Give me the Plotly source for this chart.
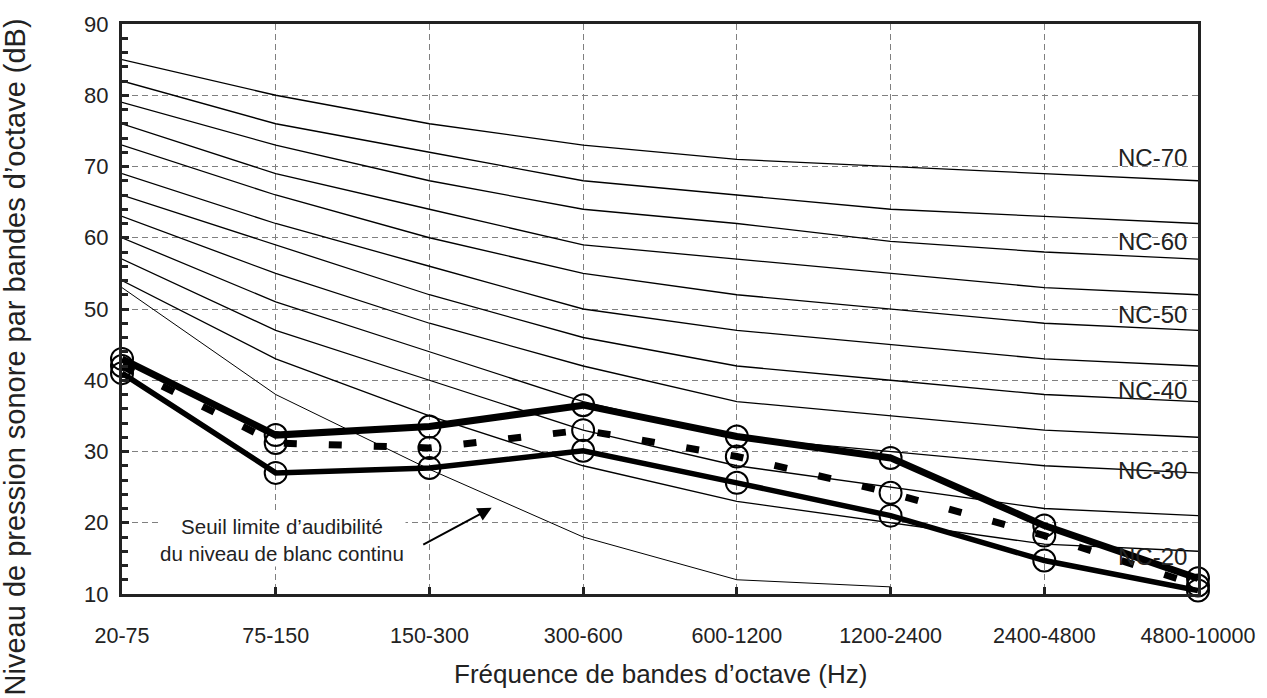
import plotly.graph_objects as go

bands = ["20-75", "75-150", "150-300", "300-600", "600-1200", "1200-2400", "2400-4800", "4800-10000"]

nc_names = ["NC-70", "NC-65", "NC-60", "NC-55", "NC-50", "NC-45", "NC-40", "NC-35", "NC-30", "NC-25", "NC-20"]
nc70 = [85, 80, 76, 73, 71, 70, 69, 68]
nc65 = [82, 76, 72, 68, 66, 64, 63, 62]
nc60 = [79, 73, 68, 64, 62, 59.5, 58, 57]
nc55 = [76, 69, 64, 59, 57, 55, 53, 52]
nc50 = [73, 66, 60, 55, 52, 50, 48, 47]
nc45 = [69, 62, 56, 50, 47, 45, 43, 42]
nc40 = [66, 59, 52, 46, 42, 40, 38, 37]
nc35 = [63, 55, 48, 42, 37, 35, 33, 32]
nc30 = [60, 51, 44, 37, 32, 30, 28, 27]
nc25 = [57, 47, 40, 33, 28, 25, 22, 21]
nc20 = [54, 43, 35, 28, 23, 20, 17, 16]
nc_curves = [nc70, nc65, nc60, nc55, nc50, nc45, nc40, nc35, nc30, nc25, nc20]

threshold = [53, 38, 27.5, 18, 12, 11]

mesure_haut = [43, 32.3, 33.5, 36.5, 32.1, 29.1, 19.6, 12.2]
mesure_moy = [42, 31.2, 30.5, 33.0, 29.3, 24.2, 18.2, 11.2]
mesure_bas = [41, 27.0, 27.7, 30.1, 25.6, 21.0, 14.7, 10.5]

label_names = ["NC-70", "NC-60", "NC-50", "NC-40", "NC-30", "NC-20"]
label_y = [71.2, 59.5, 49.2, 38.6, 27.3, 15.3]

FONT = "Liberation Sans, Arial, sans-serif"
xs = list(range(len(bands)))

fig = go.Figure()

for name, vals in zip(nc_names, nc_curves):
    fig.add_trace(go.Scatter(x=xs, y=vals, mode="lines", name=name,
                             line=dict(color="black", width=1.3), showlegend=False,
                             hoverinfo="skip"))

fig.add_trace(go.Scatter(x=xs[:len(threshold)], y=threshold, mode="lines",
                         line=dict(color="black", width=1), showlegend=False))

marker = dict(symbol="circle-open", size=22, color="black", line=dict(width=2, color="black"))

fig.add_trace(go.Scatter(x=xs, y=mesure_bas, mode="lines+markers", cliponaxis=False,
                         line=dict(color="black", width=5.5), marker=marker, showlegend=False))
fig.add_trace(go.Scatter(x=xs, y=mesure_moy, mode="lines+markers", cliponaxis=False,
                         line=dict(color="black", width=7, dash="13px,32px"), marker=marker,
                         showlegend=False))
fig.add_trace(go.Scatter(x=xs, y=mesure_haut, mode="lines+markers", cliponaxis=False,
                         line=dict(color="black", width=7), marker=marker, showlegend=False))

annotations = []
for t, yv in zip(label_names, label_y):
    annotations.append(dict(x=7, y=yv, xref="x", yref="y", text=t, showarrow=False,
                            xanchor="right", yanchor="middle", xshift=-9,
                            font=dict(family=FONT, size=24, color="#222")))

annotations.append(dict(x=1.04, y=17.6, xref="x", yref="y",
                        text="Seuil limite d’audibilité<br>du niveau de blanc continu",
                        showarrow=False, xanchor="center", yanchor="middle", align="center",
                        bgcolor="white", font=dict(family=FONT, size=20.5, color="#222")))
annotations.append(dict(x=2.405, y=22.1, ax=1.95, ay=16.8, xref="x", yref="y",
                        axref="x", ayref="y", text="", showarrow=True, arrowhead=2,
                        arrowsize=1.4, arrowwidth=2, arrowcolor="black"))

annotations.append(dict(x=0.5, y=-0.141, xref="paper", yref="paper",
                        text="Fréquence de bandes d’octave (Hz)", showarrow=False,
                        xanchor="center", yanchor="middle",
                        font=dict(family=FONT, size=26, color="#222")))
annotations.append(dict(x=0, y=0.415, xref="paper", yref="paper", xshift=-107,
                        text="Niveau de pression sonore par bandes d’octave (dB)",
                        textangle=-90, showarrow=False, xanchor="center", yanchor="middle",
                        font=dict(family=FONT, size=29, color="#222")))

fig.update_layout(
    width=1267, height=698,
    margin=dict(l=122, r=69, t=18, b=104),
    paper_bgcolor="white", plot_bgcolor="white",
    showlegend=False,
    annotations=annotations,
    xaxis=dict(range=[0, 7], tickvals=xs, ticktext=bands, showgrid=True,
               gridcolor="#808080", griddash="6px,4px", gridwidth=1,
               showline=True, linecolor="#222", linewidth=3, mirror=True,
               ticks="inside", ticklen=7, tickwidth=3, tickcolor="#222",
               ticklabelstandoff=20, zeroline=False,
               tickfont=dict(family=FONT, size=21.5, color="#222")),
    yaxis=dict(range=[10, 90], dtick=10, showgrid=True,
               gridcolor="#808080", griddash="6px,4px", gridwidth=1,
               showline=True, linecolor="#222", linewidth=3, mirror=True,
               ticks="inside", ticklen=7, tickwidth=3, tickcolor="#222",
               minor=dict(dtick=2, ticks="inside", ticklen=6, tickwidth=3,
                          tickcolor="#222", showgrid=False),
               ticklabelstandoff=6, zeroline=False,
               tickfont=dict(family=FONT, size=22, color="#222")),
)

fig.write_html("out.html")
